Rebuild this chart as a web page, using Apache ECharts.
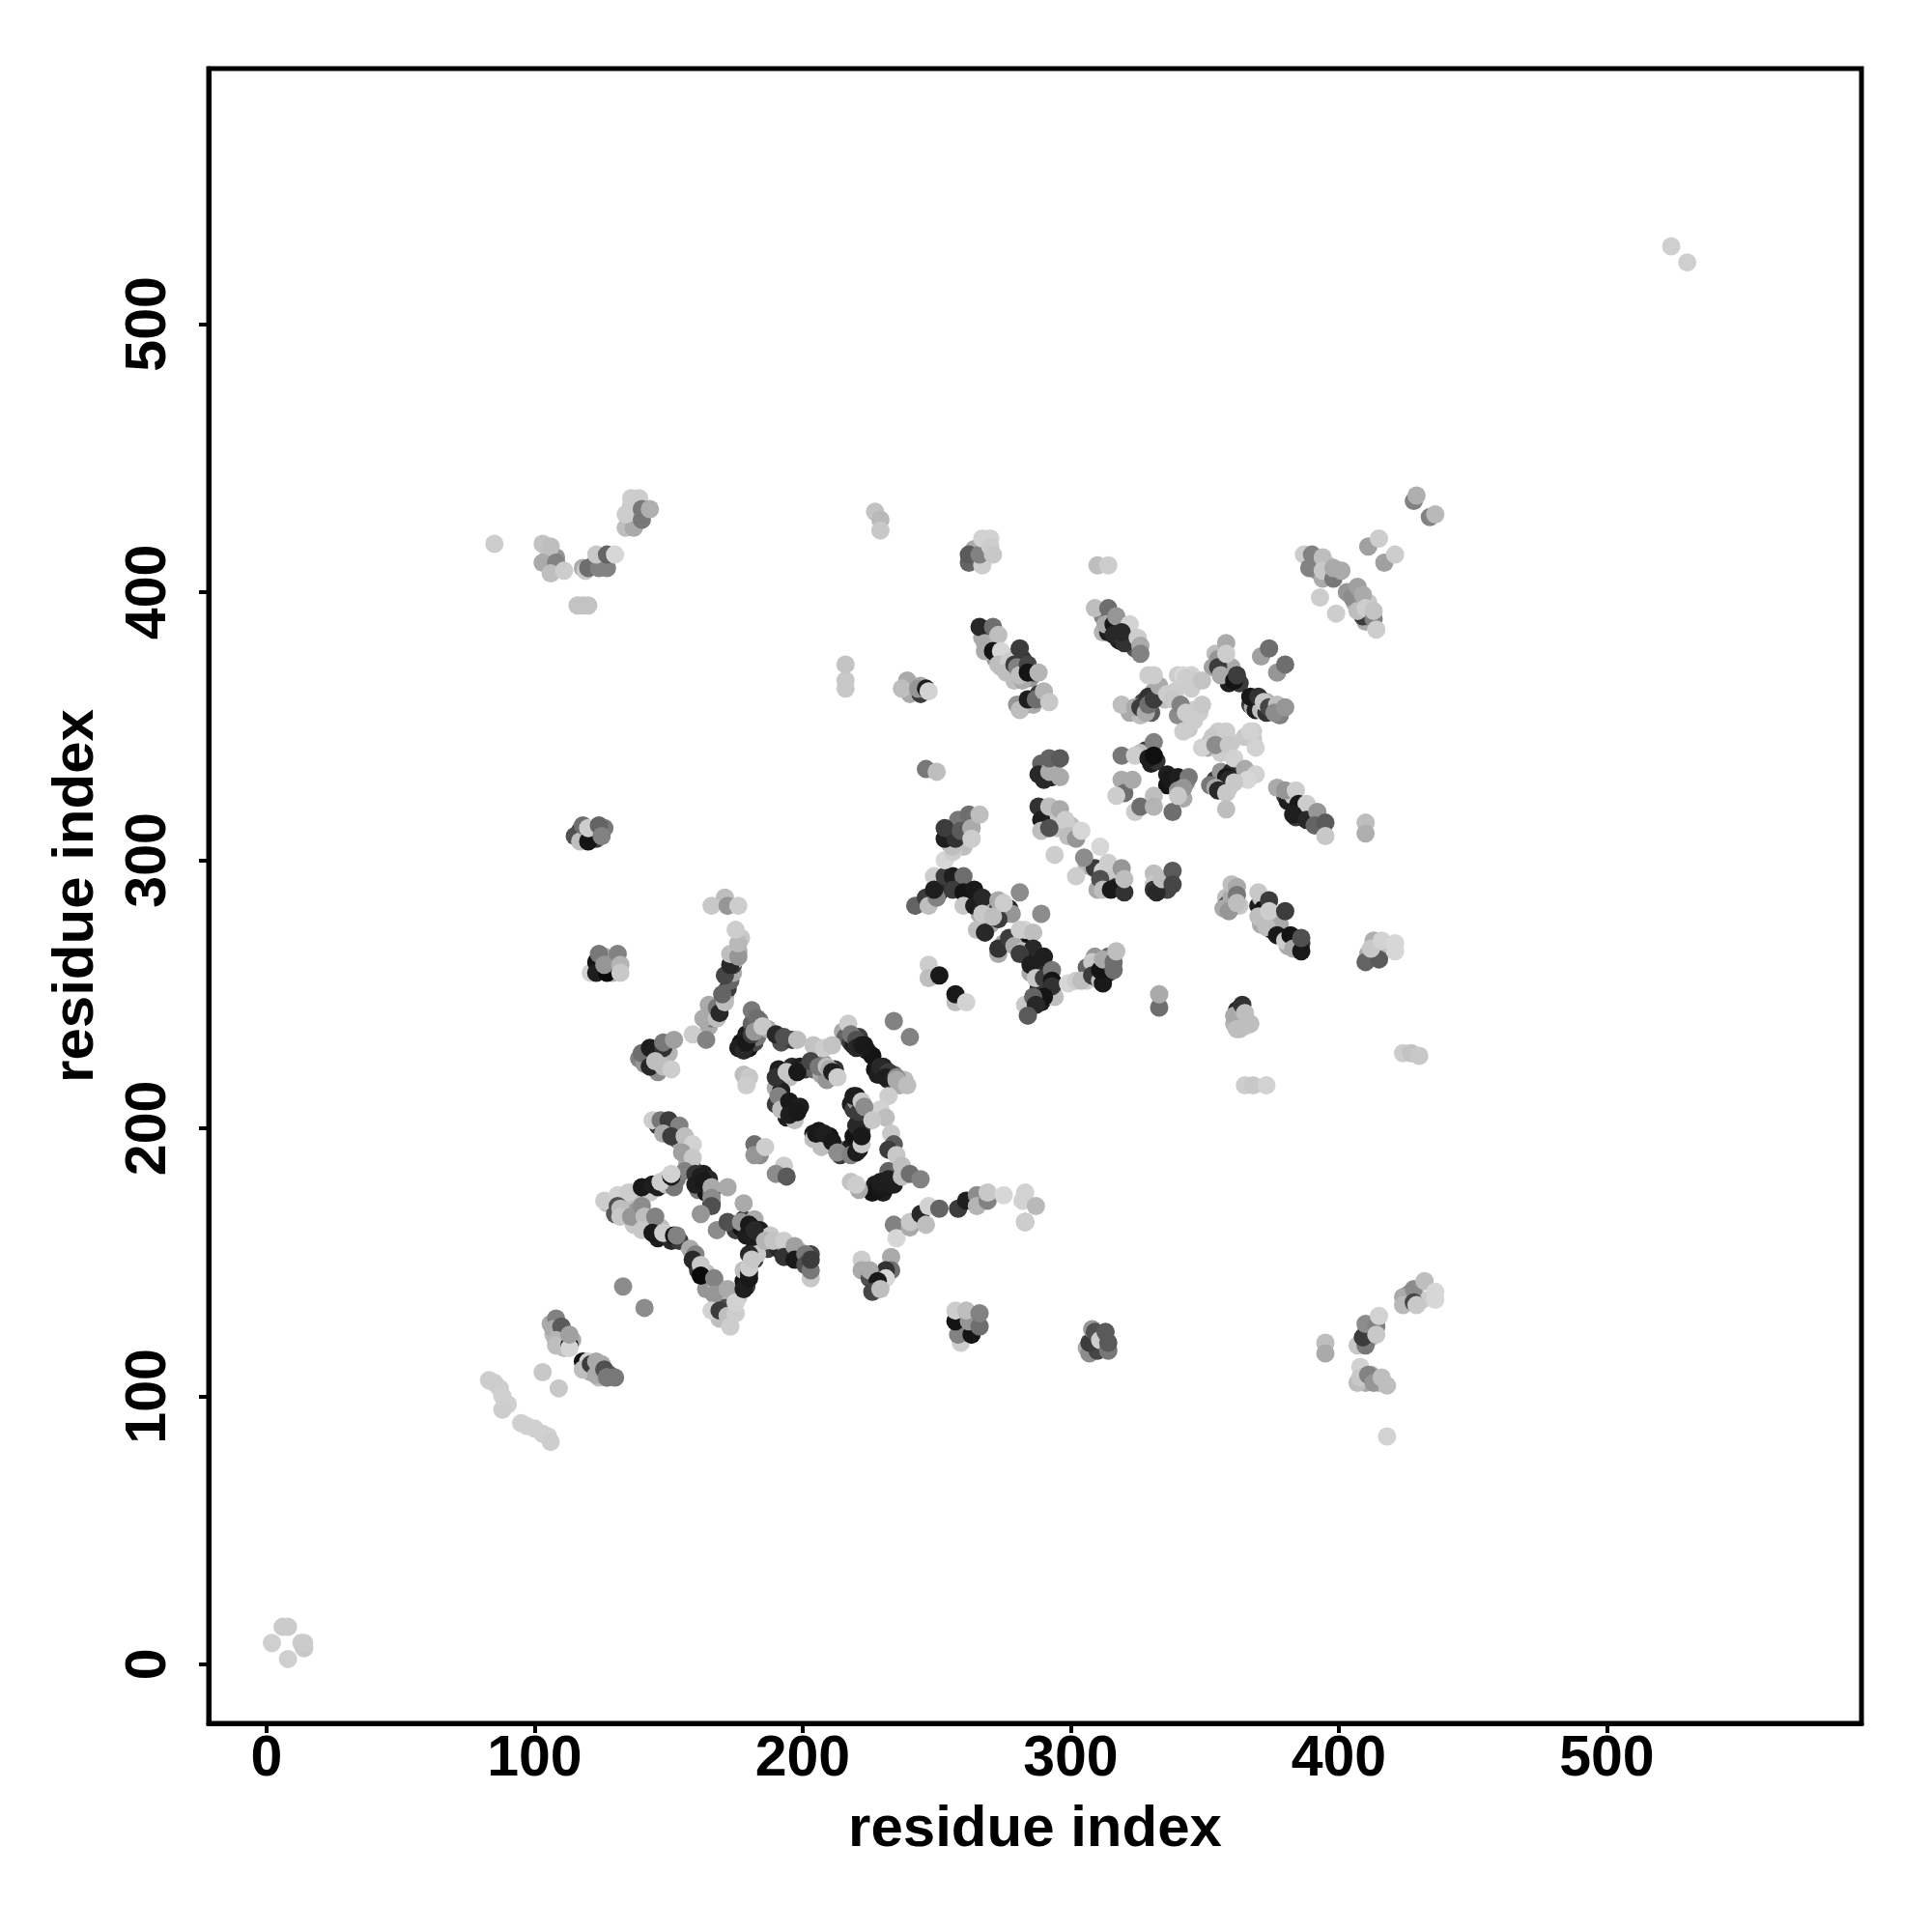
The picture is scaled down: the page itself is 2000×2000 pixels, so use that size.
<!DOCTYPE html>
<html><head><meta charset="utf-8">
<style>html,body{margin:0;padding:0;background:#fff}#c{width:2000px;height:2000px}</style>
<script src="https://cdn.jsdelivr.net/npm/echarts@6/dist/echarts.min.js"></script></head>
<body><div id="c"></div>
<script>
// Each contact: [residue i, residue j, grey level]
const tickValues = [0, 100, 200, 300, 400, 500];
const axisTitle = 'residue index';
const bandsLower = [[165,238,170],[166,241,120],[167,243,200],[169,246,60],[171,249,170],[172,252,60],[173,255,100],[174,258,170],[174,261,60],[175,263,190],[176,266,170],[177,271,200],
 [139,226,130],[141,224,150],[144,228,60],[146,226,170],[146,221,140],[150,228,180],
 [177,232,20],[179,235,30],[180,230,20],[182,232,70],[183,234,120],[181,239,100],[184,240,130],[187,237,170],[192,232,80],[196,233,60],
 [215,236,170],[216,234,100],[218,232,60],[221,234,60],[219,231,30],[224,229,30],[226,227,20],[227,222,20],[228,220,30],[230,223,30],[232,218,60],[234,220,100],[236,216,170],[238,218,190],
 [226,176,20],[227,179,30],[230,176,30],[231,178,25],[233,182,40],[232,184,100],
 [191,222,30],[192,217,60],[195,219,190],[196,223,40],[199,223,30],[201,222,60],[204,222,100],[207,220,170],[209,218,150],[212,222,50],[208,224,150],
 [190,215,170],[190,209,60],[192,214,30],[193,208,25],[194,204,30],[196,208,20],[197,203,190],
 [204,198,30],[206,199,25],[206,196,60],[209,195,30],[210,197,20],[212,193,30],[207,193,190],[214,190,60],[216,192,100],[218,193,30],[220,195,30],[221,192,20],[219,197,20],[222,200,60],
 [218,209,30],[219,207,60],[220,210,150],[221,203,60],[223,205,190],[220,201,40]];
const bandsStar = [[146,201,60],[149,200,30],[149,199,120],[151,199,170],[153,196,100],[155,194,170],[157,192,170],[157,187,170],[159,185,100],[161,181,60],[163,183,30],[164,180,20],[165,181,40],[161,177,120],[164,176,20],[166,176,100],[166,172,60],
 [127,172,190],[129,172,200],[130,168,90],[132,173,200],[134,170,120],[136,171,190],[137,176,210],[139,174,190],[142,177,30],[143,176,200],[146,178,30],[149,181,210],[149,179,190],[152,178,120],[153,181,120],
 [134,168,200],[138,169,150],[137,164,200],[139,166,170],[142,164,120],[143,163,40],[146,159,30],[147,163,190],[150,160,30],[151,158,40],[154,158,60],
 [175,162,60],[177,163,20],[179,160,30],[178,166,60],[182,166,170],[181,163,25],[183,160,60],[184,157,120],[184,162,30],[187,155,60],[188,160,200],[191,155,40],[194,155,150],[195,153,70],[198,152,40],[199,154,190],[200,151,60],[203,153,70],
 [158,155,170],[160,150,30],[161,147,60],[164,146,190],[165,143,170],[164,140,150],[168,141,190],[170,137,130],[171,134,190],[169,129,190],[171,133,80],[174,139,205],[176,137,200],[178,143,20],[179,141,60],[178,147,190],[180,146,30],[182,151,60],[182,155,30],[183,153,200]];
const bandsMiddle = [[245,284,150],[251,288,40],[254,291,40],[258,291,30],[262,286,25],[262,284,30],[265,286,30],[269,283,30],[266,280,170],[270,282,170],[273,282,60],[275,280,30],[277,282,40],[278,280,150],[270,276,170],
 [275,269,170],[279,271,200],[280,268,70],[282,272,60],[283,270,20],[284,264,25],[287,264,60],[288,260,30],[290,260,40],[285,258,170],[292,257,40],[291,252,30],[288,252,50],[293,251,100],[289,247,30],
 [306,255,210],[306,260,100],[309,260,60],[310,256,30],[314,258,40],[309,264,150],[314,264,100],
 [267,383,170],[270,383,40],[271,380,160],[272,375,150],[274,372,190],[275,376,30],[277,372,60],[278,370,80],[279,376,170],[282,375,50],[283,371,30],[285,368,150],[286,370,60],[279,367,190],[282,367,170],[283,358,40],[286,358,170],[288,362,60],
 [312,391,130],[312,385,180],[314,385,30],[315,391,30],[318,387,60],[318,382,30],[321,385,180],[323,381,100],[324,379,80],
 [291,316,40],[290,318,30],[294,316,130],[295,312,190],[295,315,200],[300,313,190],[302,311,200],[306,298,180],[309,297,60],[312,296,210],[310,289,170],[313,291,25],[316,292,50],[317,294,170],[315,296,200],[317,290,40],
 [333,289,30],[334,291,60],[336,293,180],[336,289,70],[289,336,100],[291,331,60],[294,336,170],[293,331,30],
 [254,310,30],[255,306,170],[257,311,60],[260,309,60],[261,313,80],[258,315,120],[260,305,190]];
const bandsCenter = [[322,355,170],[326,354,190],[327,359,70],[330,355,90],[332,361,80],[331,363,170],[335,360,190],[339,363,205],[343,352,190],[340,354,140],[344,349,200],[346,356,205],[345,364,205],[345,369,210],[340,369,205],
 [353,372,160],[354,377,190],[357,374,30],[356,372,190],[358,369,40],[360,372,170],[359,366,30],[363,366,60],[367,358,60],[368,357,170],[369,356,30],[371,356,190],[373,355,50],[375,357,70],[378,354,130],[373,359,170],
 [352,344,190],[355,345,205],[355,348,205],[357,345,205],[360,344,205],[365,346,200],[368,345,200],[351,342,170],[356,340,205],[362,335,205],[363,332,200],[366,332,210],[354,330,60],[356,329,30],[356,333,150],[357,327,30],[352,328,120],[359,327,190],[360,333,40],
 [328,341,60],[329,340,25],[330,336,30],[332,337,50],[326,340,190],[336,332,30],[336,328,20],[341,329,60],[343,329,140],[339,329,25],[342,323,170],
 [380,324,60],[381,322,30],[383,324,200],[384,319,30],[386,318,60],[384,316,60],[386,320,170],[389,316,180],[390,317,40],
 [358,286,190],[359,284,30],[358,283,60],[360,286,170],[363,283,200],[357,282,170],
 [370,283,30],[371,286,190],[371,276,170],[374,278,150],[372,282,20],[376,277,190],[375,274,25],[378,276,170],[379,273,170],[381,268,170],[384,271,200],[386,269,50],[382,270,190],
 [411,265,170],[413,264,140],[416,266,190],[362,244,40],[361,239,180],[363,240,60],[365,238,205],[363,237,190]];
const bandsEdges = [[258,127,30],[259,125,170],[261,126,60],[263,125,30],[259,130,110],[260,123,170],
 [309,122,140],[308,119,180],[311,118,60],[309,118,200],[312,122,100],[306,118,170],
 [106,127,170],[110,123,170],[107,123,190],[110,121,60],[112,120,190],[114,121,170],[111,118,190],[119,111,30],[120,110,190],[121,109,170],[124,110,100],[124,107,190],[125,112,170],[128,108,100],
 [391,410,60],[392,408,150],[396,407,170],[394,405,170],[396,410,190],[403,400,150],[406,396,170],[408,394,60],[411,392,30],[411,396,200],[410,389,170],
 [125,263,130],[128,262,30],[129,258,170],[125,260,60],[126,264,170],
 [264,412,190],[264,416,170],[108,413,150],[106,410,60],[107,408,150],[109,409,170],[105,413,190],[122,410,100],[118,409,170],[124,412,150],[138,426,60],[136,428,170],[138,431,190],[136,432,200],
 [117,311,60],[118,309,30],[122,309,100],[122,311,170],[119,308,200],[126,312,120],[123,308,60],[120,309,20],
 [412,108,170],[410,105,170],[415,105,190],[410,124,180],[412,122,170],[426,138,130],[427,136,180],[431,136,205],
 [241,365,180],[240,362,170],[244,362,60],[244,365,170]];
const cornerContacts = [[2,8,207],[8,2,207],[6,14,203],[8,14,203],[13,8,203],[14,6,200],[14,8,203],[524,529,207],[530,523,207]];
const earlyHelix = [[83,106,205],[85,105,205],[87,103,205],[88,100,208],[90,97,208],[88,95,205],[95,90,208],[97,89,208],[100,88,208],[103,86,208],[105,85,208],[106,83,205],[103,109,200],[109,103,200],
 [108,129,130],[107,125,170],[110,126,90],[108,121,180],[108,119,190],[113,119,20],[113,118,212],[113,123,160],
 [118,113,20],[120,113,210],[118,110,190],[121,112,60],[123,113,170],[123,108,170],[126,110,80],[127,107,180],[127,107,120],[130,107,120],[133,141,140],[141,133,140]];
const upperLeftA = [[121,258,210],[123,262,20],[123,258,30],[127,258,10],[124,265,120],[131,265,130],[126,261,150],[132,261,180],[132,258,200]];
const armB = [[159,235,205],[164,233,130],[163,241,170],[168,241,190],[165,246,170],[168,245,120],[169,243,40],[171,247,190],[170,250,100],[171,257,70],[173,261,40],[173,265,190],[176,264,150],[176,269,185],[175,274,205],[171,286,190],[166,283,200],[172,283,150],[176,283,205]];
const clusterC = [[140,228,110],[143,230,30],[143,223,40],[148,230,50],[148,232,120],[152,233,160],[145,225,190],[148,223,190],[151,222,205]];
const ringTop = [[176,230,30],[178,229,40],[179,232,25],[181,235,60],[181,244,120],[183,241,110],[182,236,150],[185,238,200],[190,235,40],[193,234,80],[198,233,190],[204,231,195],[208,230,205],[211,231,195],
 [217,239,205],[218,235,120],[220,233,80],[220,230,40],[222,231,30],[223,231,25],[234,240,130],[240,234,130],[229,223,40],[232,221,60],[231,219,30],[235,219,140],[235,218,170],[239,216,190]];
const ringRight = [[232,212,205],[229,207,210],[231,204,190],[233,198,200],[234,194,90],[232,192,60],[235,190,200],[237,186,190],[228,177,20],[229,178,25],[229,180,30],[232,181,30],[234,179,30],[237,182,190],[240,183,110],[244,181,130]];
const ringInner = [[190,219,50],[194,221,200],[198,221,25],[203,225,70],[206,223,120],[209,223,190],[210,222,170],[211,221,30],[213,219,205],
 [191,212,130],[192,207,190],[195,210,25],[195,205,30],[199,208,30],[198,206,25],
 [204,196,190],[205,198,25],[208,198,30],[211,195,25],[213,191,140],[218,190,130],[220,191,30],[222,194,200],[222,197,25],
 [219,212,30],[220,212,30],[221,206,60],[222,210,200],[223,208,140],[226,203,200]];
const smallPatches = [[178,220,190],[180,219,200],[179,216,205],[182,194,110],[184,190,140],[182,190,150],[186,193,205],[193,186,205],[190,183,140],[194,182,90],[218,180,195],[221,177,170],[220,179,205]];
const starArms = [[144,203,205],[147,203,120],[150,203,60],[154,201,130],[148,198,170],[151,197,60],[156,197,190],[159,194,210],[155,191,160],[159,189,200],[156,184,130],[160,183,50],[162,182,30],[160,179,30],[163,180,25],[166,178,170],[172,178,170],[166,174,140],[166,171,80],[162,168,150],
 [126,173,205],[131,175,210],[135,176,205],[140,178,25],[144,179,30],[147,180,205],[151,182,25],[151,183,210],
 [131,171,80],[132,170,190],[132,167,200],[136,167,150],[140,171,140],[141,167,190],[145,167,130],[140,162,200],[144,161,25],[148,161,205],[152,160,20],[153,160,130]];
const starLower = [[168,162,140],[172,165,80],[178,172,170],[177,165,150],[180,161,30],[180,164,25],[182,162,40],[186,158,180],[189,158,195],[193,158,205],[193,152,50],[197,156,160],[197,151,25],[201,153,120],[201,149,80],[203,144,200],[203,147,120],[203,151,60],
 [160,153,130],[159,151,40],[162,149,200],[162,145,10],[167,144,130],[167,138,150],[172,140,170],[166,132,210],[169,132,60],[172,130,190],[173,126,205],[175,131,205],[175,135,210],[178,140,30],[180,144,25],[180,148,205],[180,153,40],[181,151,200]];
const arcF = [[222,151,205],[222,147,170],[225,144,80],[234,164,130],[235,159,215],[240,163,170],[240,165,200],[244,168,40],[246,164,190],[247,171,210],[251,170,100],[258,170,60],[261,173,30],[265,175,140],[265,171,180],[269,173,130],[269,176,200],[275,175,215],[283,165,150],[283,165,205],[282,173,210],[283,176,210],[287,171,185]];
const clusterG = [[233,152,170],[233,147,110],[231,147,50],[231,144,215],[225,147,170],[228,143,25],[226,139,70],[229,140,190]];
const clusterHI = [[259,120,205],[258,123,130],[263,123,20],[257,128,20],[262,128,150],[257,132,205],[261,132,190],[266,126,110],[266,131,130],
 [307,116,140],[310,117,70],[307,120,60],[308,125,150],[309,124,80],[311,121,205],[314,117,120],[314,120,90],[313,124,90]];
const clusterJ = [[242,283,100],[246,286,60],[247,283,190],[250,286,130],[249,294,205],[249,289,30],[253,294,60],[256,294,30],[260,294,110],[256,289,60],[260,288,20],[264,289,25],[260,283,200],[264,283,30],[267,286,40],[265,274,190],[268,273,40],[267,280,200],[273,285,170],[273,278,60],[271,279,190],[275,284,205],[281,288,140]];
const clusterK = [[289,280,140],[273,265,170],[273,267,50],[277,271,60],[279,268,170],[283,274,215],[281,274,205],[286,273,190],[282,266,190],[286,267,40],[281,265,60],[285,261,30],[290,264,30],[287,256,200],[290,256,60],[293,259,120],[293,255,20],[294,249,190],[293,253,50],[290,249,20],[283,246,200],[286,249,100],[287,246,40],[284,242,90]];
const clusterL = [[299,254,215],[302,255,205],[304,255,190],[308,262,200],[308,257,60],[311,255,190],[312,254,25],[311,259,20],[312,263,170],[316,262,110],[316,259,110],[317,266,190]];
const isolatedPairs = [[247,261,205],[247,256,190],[251,257,25],[257,247,190],[257,250,25],[261,247,210],[333,245,110],[333,250,170],[246,334,120],[250,333,190]];
const armUp = [[253,300,215],[256,303,205],[256,305,190],[253,308,30],[257,308,50],[263,308,205],[253,312,60],[259,311,90],[263,312,180],[262,317,110],[263,312,170],[263,308,205],[266,317,190]];
const clusterM = [[305,301,140],[311,305,215],[314,299,205],[311,293,80],[312,289,190],[315,289,25],[320,288,50],[319,297,150],[320,293,190],[302,294,205],[294,302,205],
 [288,320,50],[289,315,30],[289,311,190],[292,320,190],[292,312,80],[296,319,170],[298,315,205],[299,309,190],[302,308,150],[304,311,215]];
const clusterN = [[331,295,190],[331,291,200],[331,289,50],[332,288,40],[334,293,190],[338,296,90],[338,291,70],
 [288,332,40],[290,330,40],[292,333,170],[292,338,100],[296,338,90],[296,331,170]];
const clusterP = [[266,387,40],[271,387,110],[268,381,170],[268,378,170],[273,384,190],[271,378,20],[274,378,215],[273,373,190],[277,374,205],[276,370,190],[281,379,60],[279,373,60],[280,372,130],[281,369,190],[284,373,70],[284,370,20],[288,370,180],
 [280,358,150],[281,356,190],[284,360,190],[284,360,30],[287,360,110],[290,363,180],[292,359,200]];
const clusterQ = [[309,394,190],[314,394,110],[313,388,170],[316,388,25],[317,391,150],[316,384,40],[320,381,50],[322,388,210],[319,385,40],[325,383,205],[326,380,170],[326,377,130]];
const centerUp = [[319,358,190],[324,357,170],[326,357,60],[329,361,50],[328,355,170],[329,358,110],[331,360,60],[333,365,170],[331,369,205],[329,369,205],[336,362,205],[338,360,200],[341,358,130],[342,369,215],[343,368,205],[346,367,205],[349,367,195],[342,348,205],[343,355,205],[346,352,205],[348,355,205],[349,358,200],
 [358,381,170],[355,375,150],[355,372,60],[358,377,205],[356,369,170],[361,367,20],[362,369,60],[371,376,160],[374,379,110],[377,370,150],[380,373,110],
 [367,361,25],[370,361,50],[372,359,200],[374,357,70],[377,358,190],[376,355,140],[380,357,150]];
const centerLow = [[368,348,205],[367,348,210],[369,342,210],[353,346,200],[358,348,205],[349,342,210],[354,343,140],[359,343,200],[361,338,210],[365,334,170],[369,332,210],[366,330,215],
 [358,331,25],[359,330,40],[354,327,170],[355,326,40],[358,325,200],[358,319,190],[361,329,200],
 [319,339,120],[324,339,205],[329,338,30],[331,344,130],[331,339,15],
 [337,330,25],[340,331,30],[344,331,120],[340,326,140],[342,327,150],[338,318,110],[340,324,200],
 [319,330,170],[320,325,110],[317,324,205],[323,330,170],[324,318,205],[326,320,110],[331,324,190],[331,320,180]];
const lowerRightStrings = [[377,327,170],[380,326,150],[384,326,205],[385,321,25],[388,321,205],[383,317,30],[388,315,40],[392,318,150],[391,313,100],[395,314,90],[395,309,200],[410,314,190],[410,310,175],
 [359,281,150],[360,291,190],[362,290,170],[362,287,120],[362,284,190],
 [370,288,200],[374,285,60],[370,279,190],[373,275,190],[374,281,205],[380,281,60],[377,272,25],[380,270,205],[382,272,20],[383,267,170],[386,266,25],[386,271,80]];
const rightPatches = [[413,270,175],[410,262,100],[415,263,90],[412,267,200],[416,270,210],[421,269,215],[421,266,215],
 [361,242,170],[364,246,50],[362,237,190],[365,243,190],[367,239,190],
 [424,228,205],[427,228,195],[430,227,200],[365,216,205],[368,216,200],[373,216,210]];
const lowerRightPatches = [[395,120,190],[395,116,170],[407,119,200],[410,119,120],[409,122,60],[410,127,140],[414,126,130],[414,123,200],[415,130,210],
 [424,137,170],[424,134,185],[428,140,140],[428,135,70],[429,134,200],[432,143,190],[436,139,215],[436,136,215],
 [408,111,210],[407,105,190],[408,107,200],[411,108,130],[413,105,150],[416,107,190],[418,104,190],[418,85,210]];
const upperRightPatches = [[428,434,130],[429,436,175],[434,428,130],[436,429,185],[411,417,160],[415,420,205],[417,411,160],[421,414,205],
 [387,414,205],[390,414,130],[389,409,130],[394,413,190],[394,408,200],[398,405,120],[398,409,170],[401,408,170],[393,398,205],[399,392,205],
 [405,398,140],[407,402,160],[409,399,170],[409,391,60],[407,393,190],[410,394,205],[413,390,130],[414,386,205],[413,393,195]];
const topPatches = [[262,411,100],[262,414,90],[267,410,205],[266,414,130],[267,420,210],[270,420,210],[270,417,205],[271,414,200],
 [227,430,195],[229,427,185],[229,423,200],[310,410,190],[314,410,205],
 [239,367,170],[237,364,190],[243,364,150],[246,364,30],[247,363,210],[216,367,200],[216,364,200],[216,373,195]];
const topLeftPatches = [[85,418,205],[103,418,195],[106,417,190],[103,411,170],[108,411,130],[106,407,190],[111,408,205],
 [119,408,200],[120,409,110],[124,409,130],[127,409,130],[123,414,200],[127,414,100],[130,414,215],[116,395,195],[118,395,195],[120,395,195],
 [134,424,190],[137,424,170],[134,429,205],[136,435,205],[139,435,205],[140,427,120],[140,431,120],[143,431,175],
 [115,309,80],[117,307,190],[120,307,20],[118,313,110],[120,312,205],[124,313,100],[125,309,130]];

const contacts = [].concat(bandsLower, bandsStar, bandsMiddle, bandsCenter, bandsEdges, cornerContacts, earlyHelix, upperLeftA, armB, clusterC, ringTop, ringRight, ringInner, smallPatches, starArms, starLower, arcF, clusterG, clusterHI, clusterJ, clusterK, clusterL, isolatedPairs, armUp, clusterM, clusterN, clusterP, clusterQ, centerUp, centerLow, lowerRightStrings, rightPatches, lowerRightPatches, upperRightPatches, topPatches, topLeftPatches);

const font = {fontFamily:'"Liberation Sans"', fontWeight:'bold', color:'#000', fontSize:60};
const chart = echarts.init(document.getElementById('c'), null, {renderer:'canvas'});
function axis(extra, rot){
  return Object.assign({
    type:'value', name:axisTitle, nameLocation:'middle',
    nameTextStyle:Object.assign({}, font),
    splitLine:{show:false},
    axisLine:{show:true, onZero:false, lineStyle:{color:'#000', width:5}},
    axisTick:{show:true, length:10, customValues:tickValues, lineStyle:{color:'#000', width:4}},
    axisLabel:Object.assign({}, font, {fontSize:59, customValues:tickValues, rotate:rot, hideOverlap:false, showMinLabel:true, showMaxLabel:true})
  }, extra);
}
const xA = axis({min:-21.6, max:595, nameGap:80}, 0); xA.axisLabel.margin = 8;
const yA = axis({min:-22, max:595.3, nameGap:107}, 90); yA.axisLabel.margin = 32;
chart.setOption({
  animation:false, backgroundColor:'#fff',
  grid:{left:216, right:73, top:71, bottom:216, show:true, borderColor:'#000', borderWidth:5, backgroundColor:'transparent'},
  xAxis:xA, yAxis:yA,
  visualMap:{show:false, dimension:2, min:0, max:255, seriesIndex:0, inRange:{color:['#000000','#ffffff']}},
  series:[{type:'scatter', data:contacts, symbol:'circle', symbolSize:19, itemStyle:{opacity:1}, progressive:0, large:false, clip:true, silent:true}]
});
</script></body></html>
